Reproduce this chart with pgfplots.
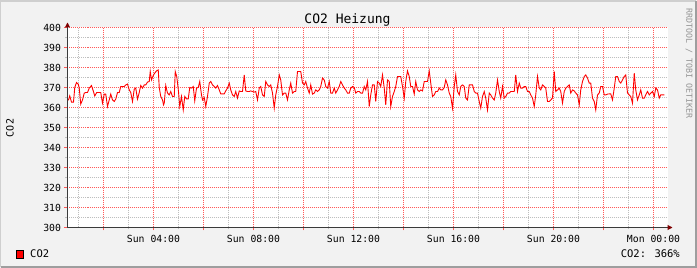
\documentclass[border=0pt]{standalone}
\usepackage{pgfplots}
\pgfplotsset{compat=1.18}
\usepackage{fontspec}
\setmainfont{DejaVu Sans Mono}
\usetikzlibrary{arrows.meta}
\definecolor{bg}{HTML}{F2F2F2}
\definecolor{shadea}{HTML}{CFCFCF}
\definecolor{shadeb}{HTML}{9E9E9E}
\definecolor{mgrid}{HTML}{FF5A5A}
\definecolor{mingrid}{HTML}{BEBEBE}
\definecolor{axiscol}{HTML}{3A3A3A}
\definecolor{arrowcol}{HTML}{7F0000}
\begin{document}
\begin{tikzpicture}[x=1pt,y=1pt]
\path[use as bounding box, fill=bg] (0,0) rectangle (697,268);
\draw[shadea, line width=2pt] (0,1) -- (0,267) -- (696,267);
\draw[shadeb, line width=2pt] (1,1) -- (696,1) -- (696,267);
\begin{axis}[
  at={(67.5pt,40.5pt)}, anchor=south west,
  scale only axis, width=600pt, height=200pt,
  xmin=0.56, xmax=24.56, ymin=300, ymax=400,
  axis background/.style={fill=white},
  axis line style={draw=none},
  xtick pos=bottom, ytick pos=left,
  xtick={2,4,...,24},
  xticklabels={,Sun 04:00,,Sun 08:00,,Sun 12:00,,Sun 16:00,,Sun 20:00,,Mon 00:00},
  minor x tick num=1,
  ytick={300,310,...,400},
  minor y tick num=1,
  tick align=outside,
  major tick length=3pt, minor tick length=2pt,
  major tick style={color=mgrid, line width=1pt},
  minor tick style={color=mingrid, line width=1pt},
  /pgf/number format/assume math mode=true,
  /pgf/number format/1000 sep={},
  tick label style={font=\fontsize{9.8}{11}\selectfont, text=black},
  xticklabel style={yshift=-1pt},
  clip=false,
]
\pgfplotsinvokeforeach{1,3,...,23}{\draw[mingrid, line width=1pt, dash pattern=on 1pt off 1pt] (axis cs:#1,300) -- (axis cs:#1,400);}
\pgfplotsinvokeforeach{305,315,...,395}{\draw[mingrid, line width=1pt, dash pattern=on 1pt off 1pt] (axis cs:0.56,#1) -- (axis cs:24.56,#1);}
\pgfplotsinvokeforeach{2,4,...,24}{\draw[mgrid, line width=1pt, dash pattern=on 1pt off 1pt] (axis cs:#1,300) -- (axis cs:#1,400);}
\pgfplotsinvokeforeach{310,320,...,400}{\draw[mgrid, line width=1pt, dash pattern=on 1pt off 1pt] (axis cs:0.56,#1) -- (axis cs:24.56,#1);}
\addplot[red, line width=0.9pt] coordinates {
(0.56,363.8)(0.60,363.8)(0.65,365.8)(0.72,362.7)(0.80,362.7)(0.85,370)(0.92,372.5)(0.99,371.7)(1.03,369.7)(1.09,361.7)
(1.16,363.8)(1.23,367.2)(1.29,367.5)(1.36,367.5)(1.43,369.7)(1.52,371)(1.59,368.3)(1.65,365.8)(1.73,367.5)(1.83,367.5)
(1.89,367.5)(1.96,362.2)(2.03,366.7)(2.09,366.7)(2.16,360.5)(2.23,363.8)(2.29,366.7)(2.36,363.8)(2.43,363)(2.49,364.2)
(2.56,367.5)(2.63,367.5)(2.69,370.5)(2.76,370.5)(2.83,370.5)(2.89,371.3)(2.96,371.7)(3.03,368.8)(3.09,367.5)(3.16,363)
(3.23,369.2)(3.29,369.7)(3.36,364.2)(3.43,367.5)(3.49,371)(3.56,369.7)(3.63,371.3)(3.69,371.3)(3.76,372.7)(3.83,373)
(3.87,378)(3.92,373.8)(3.99,376)(4.05,377.2)(4.12,378.3)(4.19,378.8)(4.23,370)(4.29,365.5)(4.36,363.8)(4.40,361.3)
(4.43,362.2)(4.49,371)(4.56,367.2)(4.63,366.3)(4.69,368)(4.76,365.5)(4.83,365.5)(4.87,378)(4.93,375.5)(5.00,368)
(5.05,360.5)(5.12,365.5)(5.19,358.8)(5.25,365.5)(5.32,364.3)(5.39,364.3)(5.45,370)(5.52,369.7)(5.59,370.5)(5.65,363.3)
(5.72,369.7)(5.79,370)(5.85,373)(5.92,366.3)(5.96,363.8)(6.03,365)(6.09,360.5)(6.16,365.5)(6.23,372.2)(6.29,373)
(6.36,371.3)(6.43,370.5)(6.49,369.7)(6.56,371)(6.63,368.8)(6.69,366.8)(6.76,366.8)(6.83,366.8)(6.89,368.3)(6.96,369.7)
(7.03,372.2)(7.09,368.8)(7.16,366.3)(7.23,365.5)(7.29,368)(7.36,364.7)(7.43,368.3)(7.49,368)(7.56,368)(7.63,376.3)
(7.69,368.3)(7.76,368)(7.83,368)(7.89,368.3)(7.96,368)(8.03,367.7)(8.09,368)(8.16,363.8)(8.23,369.7)(8.29,370.5)
(8.36,366.3)(8.43,365.5)(8.49,373)(8.56,371.3)(8.63,370.5)(8.69,371.3)(8.76,367.2)(8.83,359.7)(8.89,366.3)(8.96,370.5)
(9.03,376.3)(9.09,373.8)(9.16,366.3)(9.23,367.2)(9.29,367.2)(9.36,363.8)(9.43,368.8)(9.49,372.2)(9.56,367.2)(9.63,368)
(9.69,368)(9.76,378)(9.83,378)(9.89,378)(9.96,372.2)(10.03,371.3)(10.09,373)(10.16,369.7)(10.23,367.2)(10.29,371.3)
(10.36,366.7)(10.43,367.2)(10.49,368.8)(10.56,368)(10.63,368.8)(10.69,370.5)(10.76,374.7)(10.83,373.8)(10.89,370.5)(10.96,369.7)
(11.03,373)(11.09,367.2)(11.16,367.2)(11.23,369.7)(11.29,367.2)(11.36,368.8)(11.43,370.5)(11.49,373)(11.56,371.3)(11.63,369.7)
(11.69,368.8)(11.76,367.2)(11.83,367.2)(11.89,369.7)(11.96,370.5)(12.03,370)(12.09,367.2)(12.16,368)(12.23,368)(12.29,367.2)
(12.36,367.2)(12.43,370.5)(12.49,368.8)(12.56,373)(12.63,360.5)(12.69,366.3)(12.76,371.3)(12.83,371.3)(12.89,363)(12.96,373)
(13.03,372.2)(13.09,370.5)(13.16,376.3)(13.23,369.7)(13.29,361.3)(13.36,373.8)(13.43,373)(13.49,360.5)(13.56,365.5)(13.63,368)
(13.69,370.5)(13.76,375.5)(13.83,375.5)(13.89,375.5)(13.96,370.5)(14.03,364.7)(14.09,373)(14.16,378.3)(14.23,375.5)(14.29,370.5)
(14.36,370.5)(14.43,366.7)(14.49,373)(14.56,368.8)(14.63,368)(14.69,368.8)(14.76,368.3)(14.83,373)(14.89,373)(14.96,373)
(15.03,378.3)(15.09,372.2)(15.16,365.5)(15.23,366.3)(15.29,368)(15.36,368)(15.43,369.7)(15.49,368.8)(15.56,368.8)(15.63,370)
(15.69,373.8)(15.76,371.3)(15.83,367.2)(15.89,365.5)(15.96,359.7)(16.03,370.5)(16.09,376.3)(16.16,368)(16.23,366.3)(16.29,370.5)
(16.36,371.3)(16.43,370.5)(16.49,364.7)(16.56,363.8)(16.63,371.3)(16.69,371.3)(16.76,371.3)(16.83,368)(16.89,367.2)(16.96,367.2)
(17.03,363)(17.09,359.7)(17.16,365.5)(17.23,368)(17.29,364.7)(17.36,358.8)(17.43,367.2)(17.49,366.3)(17.56,364.7)(17.63,363.8)
(17.69,367.2)(17.76,373.8)(17.83,368)(17.89,364.7)(17.96,370.5)(18.03,364.7)(18.09,365.5)(18.16,367.2)(18.23,367.2)(18.29,368)
(18.36,368)(18.43,368)(18.49,376.3)(18.56,368)(18.63,372.2)(18.69,369.7)(18.76,369.7)(18.83,370.5)(18.89,370.5)(18.96,368)
(19.03,368)(19.09,366.3)(19.16,364.7)(19.23,360.5)(19.29,366.3)(19.36,375.5)(19.43,369.7)(19.49,368.8)(19.56,371.3)(19.63,370.5)
(19.69,369.7)(19.76,363)(19.83,363)(19.89,363.8)(19.96,364.7)(20.03,378)(20.09,368)(20.16,368.8)(20.23,369.7)(20.29,368)
(20.36,362.2)(20.43,368)(20.49,369.7)(20.56,370.5)(20.63,371.3)(20.69,367.2)(20.76,368.8)(20.83,368.3)(20.89,367.2)(20.96,366.3)
(21.03,361.3)(21.09,368.8)(21.16,373)(21.23,375.5)(21.29,376.3)(21.36,374.7)(21.43,372.2)(21.49,372.2)(21.56,364.7)(21.63,363)
(21.69,358.8)(21.76,366.3)(21.83,367.2)(21.89,370.5)(21.96,370.5)(22.03,366.3)(22.09,366.3)(22.16,366.7)(22.23,366.8)(22.29,366.8)
(22.36,363.8)(22.43,369.7)(22.49,375.5)(22.56,375.5)(22.63,373)(22.69,372.2)(22.76,373.8)(22.83,375.5)(22.89,376.3)(22.96,367.2)
(23.03,366.3)(23.09,365.5)(23.16,362.2)(23.23,377.2)(23.29,368.8)(23.36,363.8)(23.43,366.3)(23.49,368.8)(23.56,364.7)(23.63,364.7)
(23.69,366.3)(23.76,368)(23.83,366.3)(23.89,367.2)(23.96,368)(24.03,365.5)(24.09,369.7)(24.16,368.8)(24.23,364.7)(24.29,366.3)
(24.36,366.3)(24.43,366.3)
};
\draw[axiscol, line width=1pt, shorten >=-5pt, -{Triangle[length=5pt,width=5pt,color=arrowcol]}] (rel axis cs:0,0) -- (rel axis cs:1,0);
\draw[axiscol, line width=1pt, shorten >=-5pt, -{Triangle[length=5pt,width=5pt,color=arrowcol]}] (rel axis cs:0,0) -- (rel axis cs:0,1);
\end{axis}
\node[font=\fontsize{13}{15}\selectfont] at (347.5,248) {CO2 Heizung};
\node[font=\fontsize{10}{12}\selectfont, rotate=90] at (10,140) {CO2};
\node[font=\fontsize{8.3}{10}\selectfont, text=black!42, rotate=-90, anchor=west] at (689,263) {RRDTOOL / TOBI OETIKER};
\filldraw[fill=red, draw=black, line width=0.8pt] (16,10) rectangle (23,18);
\node[font=\fontsize{10.5}{12}\selectfont, anchor=west, inner sep=0] at (30,14) {CO2};
\node[font=\fontsize{10.5}{12}\selectfont, anchor=east, inner sep=0] at (680,14) {CO2: 366\%};
\end{tikzpicture}
\end{document}
